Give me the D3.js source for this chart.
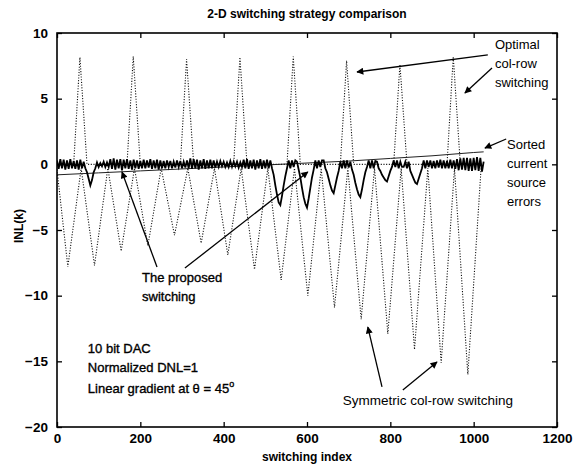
<!DOCTYPE html>
<html>
<head>
<meta charset="utf-8">
<script src="https://cdn.jsdelivr.net/npm/d3@7"></script>
<style>
  body { margin: 0; background: #fff; }
  svg { display: block; font-family: "Liberation Sans", Arial, sans-serif; }
</style>
</head>
<body>
<div id="chart"></div>
<script>
// ---- data ----
const xTicks = [0, 200, 400, 600, 800, 1000, 1200];
const yTicks = [-20, -15, -10, -5, 0, 5, 10];

// optimal col-row switching (dotted): narrow up-triangles
const optX = [0, 40, 55, 72, 168, 183, 200, 296, 311, 328, 424, 439, 456, 552, 567, 584,
              680, 695, 712, 808, 823, 840, 936, 951, 968, 1024];
const optY = [0, 0, 8.15, 0, 0, 8.2, 0, 0, 8.0, 0, 0, 8.15, 0, 0, 8.2, 0,
              0, 7.9, 0, 0, 7.6, 0, 0, 8.2, 0, 0];

// symmetric col-row switching (dotted): down V's
const symX = [0, 26, 58, 90, 122, 154, 186, 218, 250, 282, 314, 346, 378, 410, 442, 474, 506,
              538, 570, 602, 634, 666, 698, 730, 762, 794, 826, 858, 890, 922, 954, 986, 1018];
const symY = [-0.4, -7.8, -0.3, -7.7, -0.3, -6.6, -0.3, -6.2, -0.3, -5.4, -0.3, -6.0, -0.3, -6.9, -0.3, -8.0, -0.3,
              -8.8, -0.3, -10.0, -0.3, -10.9, -0.3, -11.8, -0.3, -12.9, -0.3, -14.1, -0.3, -15.1, -0.3, -16.0, -0.2];

// proposed switching (solid, dense band near 0), one value every 4 codes
const propStep = 4;
const propY = [
  0.3, -0.35, 0.4, -0.3, 0.35, -0.4, 0.3, -0.35, 0.4, -0.3, 0.25, -0.35, 0.3, -0.4, 0.35, -0.3,
  0.2, -0.3, -0.6, -1.1, -1.6, -1.2, -0.6, -0.3, 0.15, -0.2, 0.1, -0.15, 0.2, -0.2, 0.15, -0.2,
  0.4, -0.35, 0.45, -0.4, 0.35, -0.3, 0.4, -0.45, 0.35, -0.3, 0.4, -0.35, 0.3, -0.4, 0.35, -0.3,
  0.3, -0.35, 0.25, -0.3, 0.35, -0.3, 0.3, -0.25, 0.4, -0.35, 0.3, -0.3, 0.35, -0.4, 0.3, -0.3,
  0.25, -0.3, 0.3, -0.2, 0.25, -0.3, 0.2, -0.25, 0.3, -0.2, 0.25, -0.3, 0.2, -0.25, 0.3, -0.3,
  0.45, -0.35, 0.4, -0.3, 0.35, -0.4, 0.3, -0.3, 0.4, -0.35, 0.3, -0.3, 0.35, -0.3, 0.3, -0.25,
  0.2, -0.2, 0.25, -0.15, 0.2, -0.2, 0.15, -0.2, 0.25, -0.2, 0.2, -0.15, 0.2, -0.25, 0.15, -0.2,
  0.35, -0.3, 0.4, -0.35, 0.3, -0.3, 0.35, -0.4, 0.3, -0.3, 0.4, -0.35, 0.3, -0.3, 0.35, -0.3,
  0.3, -0.3, -0.8, -1.6, -2.3, -2.9, -3.1, -2.4, -1.6, -0.9, -0.3, 0.3, -0.3, 0.3, -0.2, 0.3,
  0.2, -0.4, -1.0, -1.8, -2.5, -3.0, -3.3, -2.6, -1.8, -1.0, -0.4, 0.3, -0.3, 0.3, -0.2, 0.3,
  0.3, -0.3, -0.6, -1.1, -1.6, -2.0, -2.2, -1.6, -1.0, -0.5, 0.2, -0.3, 0.3, -0.3, 0.3, -0.25,
  0.2, -0.4, -0.8, -1.4, -1.9, -2.3, -2.5, -1.9, -1.2, -0.6, -0.2, 0.3, -0.3, 0.3, -0.3, 0.25,
  0.2, -0.3, -0.5, -0.8, -1.0, -1.2, -1.3, -0.9, -0.5, -0.2, 0.3, -0.2, 0.3, -0.3, 0.2, -0.2,
  -0.2, 0.2, -0.3, 0.2, -0.5, -0.8, -1.1, -1.4, -1.5, -1.1, -0.7, -0.3, 0.3, -0.3, 0.3, -0.2,
  0.3, -0.3, 0.25, -0.3, 0.3, -0.25, 0.35, -0.3, 0.3, -0.3, 0.25, -0.3, 0.35, -0.3, 0.3, -0.35,
  0.4, -0.45, 0.45, -0.4, 0.5, -0.45, 0.5, -0.5, 0.45, -0.5, 0.5, -0.45, 0.55, -0.5, 0.5, -0.55,
  0.2
];

// sorted current source errors (thin solid, slow ramp)
const sortX = [0, 100, 200, 300, 400, 500, 600, 700, 800, 900, 1000, 1024];
const sortY = [-0.8, -0.65, -0.5, -0.35, -0.2, -0.05, 0.1, 0.25, 0.45, 0.65, 0.9, 0.95];

// ---- layout ----
const W = 573, H = 468;
const L = 57, R = 557, T = 33, B = 427;

const svg = d3.select('#chart').append('svg')
    .attr('width', W)
    .attr('height', H);

const x = d3.scaleLinear().domain([0, 1200]).range([L, R]);
const y = d3.scaleLinear().domain([-20, 10]).range([B, T]);

svg.append('defs').append('clipPath').attr('id', 'clip')
  .append('rect').attr('x', L).attr('y', T).attr('width', R - L).attr('height', B - T);

svg.select('defs').append('marker')
    .attr('id', 'arrow')
    .attr('viewBox', '0 0 10 10')
    .attr('refX', 9).attr('refY', 5)
    .attr('markerWidth', 10).attr('markerHeight', 7)
    .attr('markerUnits', 'userSpaceOnUse')
    .attr('orient', 'auto')
  .append('path')
    .attr('d', 'M0,0 L10,5 L0,10 z')
    .attr('fill', '#000');

const line = d3.line().x(d => x(d[0])).y(d => y(d[1]));
const plot = svg.append('g').attr('clip-path', 'url(#clip)');

// dotted series
[[symX, symY], [optX, optY]].forEach(([xs, ys]) => {
  plot.append('path')
      .datum(xs.map((v, i) => [v, ys[i]]))
      .attr('d', line)
      .attr('fill', 'none')
      .attr('stroke', '#111')
      .attr('stroke-width', 1.1)
      .attr('stroke-dasharray', '1.1,1.6');
});

plot.append('path')
    .datum(sortX.map((v, i) => [v, sortY[i]]))
    .attr('d', line)
    .attr('fill', 'none')
    .attr('stroke', '#222')
    .attr('stroke-width', 1);

plot.append('path')
    .datum(propY.map((v, i) => [i * propStep, v]))
    .attr('d', line)
    .attr('fill', 'none')
    .attr('stroke', '#000')
    .attr('stroke-width', 1.8);

// ---- axes (matlab style, ticks inside) ----
const axB = svg.append('g').attr('transform', `translate(0,${B})`)
    .call(d3.axisBottom(x).tickValues(xTicks).tickFormat(d3.format('d'))
      .tickSizeInner(-5).tickSizeOuter(0).tickPadding(6));
const axT = svg.append('g').attr('transform', `translate(0,${T})`)
    .call(d3.axisTop(x).tickValues(xTicks).tickSizeInner(-5).tickSizeOuter(0).tickFormat(''));
const axL = svg.append('g').attr('transform', `translate(${L},0)`)
    .call(d3.axisLeft(y).tickValues(yTicks).tickSizeInner(-5).tickSizeOuter(0).tickPadding(9));
const axR = svg.append('g').attr('transform', `translate(${R},0)`)
    .call(d3.axisRight(y).tickValues(yTicks).tickSizeInner(-5).tickSizeOuter(0).tickFormat(''));

[axB, axT, axL, axR].forEach(a => {
  a.select('.domain').remove();
  a.selectAll('line').attr('stroke', '#000').attr('stroke-width', 1.3);
  a.selectAll('text')
    .attr('fill', '#000')
    .style('font-family', '"Liberation Sans", Arial, sans-serif')
    .style('font-size', '13.5px')
    .style('font-weight', 'bold');
});

svg.append('rect')
    .attr('x', L).attr('y', T).attr('width', R - L).attr('height', B - T)
    .attr('fill', 'none').attr('stroke', '#000').attr('stroke-width', 1.6);

// ---- titles ----
svg.append('text')
    .attr('x', (L + R) / 2).attr('y', 18)
    .attr('text-anchor', 'middle')
    .style('font-size', '12px').style('font-weight', 'bold')
    .text('2-D switching strategy comparison');

svg.append('text')
    .attr('x', (L + R) / 2).attr('y', 461)
    .attr('text-anchor', 'middle')
    .style('font-size', '12px').style('font-weight', 'bold')
    .text('switching index');

svg.append('text')
    .attr('transform', 'translate(23,226) rotate(-90)')
    .attr('text-anchor', 'middle')
    .style('font-size', '12px').style('font-weight', 'bold')
    .text('INL(k)');

// ---- annotations (in data coordinates) ----
const notes = [
  { x: 1051, y: 9.1, lines: ['Optimal', 'col-row', 'switching'] },
  { x: 1080, y: 1.5, lines: ['Sorted', 'current', 'source', 'errors'] },
  { x: 204, y: -8.6, lines: ['The proposed', 'switching'], heavy: true },
  { x: 74, y: -14.0, lines: ['10 bit DAC', 'Normalized DNL=1'], heavy: true }
];
notes.forEach(n => {
  const t = svg.append('text')
      .attr('x', x(n.x)).attr('y', y(n.y))
      .style('font-size', '13px')
      .attr('stroke', n.heavy ? '#000' : 'none')
      .attr('stroke-width', n.heavy ? 0.35 : 0);
  n.lines.forEach((s, i) => {
    t.append('tspan').attr('x', x(n.x)).attr('dy', i === 0 ? '0.35em' : '1.45em').text(s);
  });
});

const lin = svg.append('text')
    .attr('x', x(74)).attr('y', y(-17.05))
    .attr('dy', '0.35em')
    .style('font-size', '13px')
    .attr('stroke', '#000').attr('stroke-width', 0.35);
lin.append('tspan').text('Linear gradient at \u03b8 = 45');
lin.append('tspan').attr('dy', '-6').style('font-size', '9px').text('o');

svg.append('text')
    .attr('x', x(686)).attr('y', y(-17.95))
    .attr('dy', '0.35em')
    .style('font-size', '13.5px')
    .text('Symmetric col-row switching');

const arrows = [
  [1034, 8.33, 720, 7.03],
  [1044, 7.34, 979, 5.43],
  [1078, 1.93, 1027, 1.24],
  [240, -7.82, 156, -0.58],
  [307, -7.9, 602, -0.58],
  [780, -16.95, 746, -12.39],
  [830, -17.18, 912, -15.05]
];
svg.selectAll('.arrow').data(arrows).enter().append('line')
    .attr('class', 'arrow')
    .attr('x1', d => x(d[0])).attr('y1', d => y(d[1]))
    .attr('x2', d => x(d[2])).attr('y2', d => y(d[3]))
    .attr('stroke', '#000').attr('stroke-width', 1.3)
    .attr('marker-end', 'url(#arrow)');
</script>
</body>
</html>
